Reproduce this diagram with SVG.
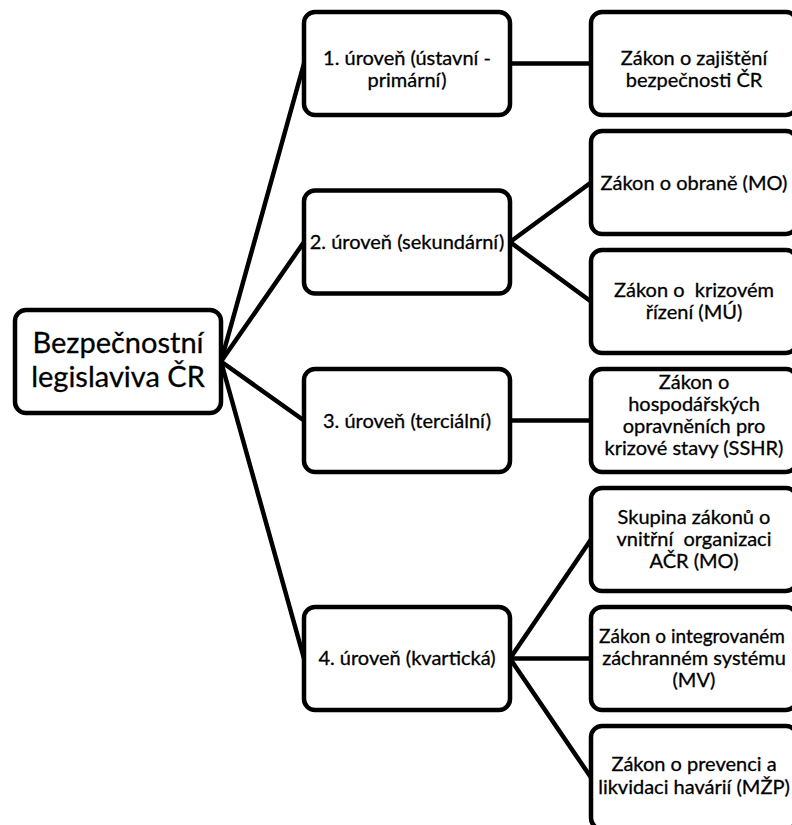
<svg xmlns="http://www.w3.org/2000/svg" width="792" height="825" viewBox="0 0 792 825">
<style>
.box{fill:#fff;stroke:#000;stroke-width:4.5}
.ln{stroke:#000;stroke-width:4.5;fill:none;stroke-linecap:round}
text{font-family:Lato,"Liberation Sans",sans-serif;fill:#000;text-anchor:middle;white-space:pre;stroke:#000;stroke-width:0.3}
.s{font-size:20px}
.r{font-size:29px}
</style>
<rect width="792" height="825" fill="#fff"/>
<g id="connectors">
<line class="ln" x1="221" y1="361.5" x2="304" y2="63.5"/>
<line class="ln" x1="221" y1="361.5" x2="304" y2="242"/>
<line class="ln" x1="221" y1="361.5" x2="304" y2="420.5"/>
<line class="ln" x1="221" y1="361.5" x2="304" y2="658.5"/>
<line class="ln" x1="510" y1="63.5" x2="591" y2="63.5"/>
<line class="ln" x1="510" y1="242" x2="591" y2="182.5"/>
<line class="ln" x1="510" y1="242" x2="591" y2="301.5"/>
<line class="ln" x1="510" y1="420.5" x2="591" y2="420.5"/>
<line class="ln" x1="510" y1="658.5" x2="591" y2="539.5"/>
<line class="ln" x1="510" y1="658.5" x2="591" y2="658.5"/>
<line class="ln" x1="510" y1="658.5" x2="591" y2="777.5"/>
</g>
<g id="root">
<rect class="box" x="15" y="310" width="206" height="103" rx="11"/>
<text class="r" x="118" y="353">Bezpečnostní</text>
<text class="r" x="118" y="387">legislaviva ČR</text>
</g>
<g id="level1">
<rect class="box" x="304" y="12" width="206" height="103" rx="11"/>
<text class="s" x="407" y="65">1. úroveň (ústavní -</text>
<text class="s" x="407" y="87">primární)</text>
</g>
<g id="level2">
<rect class="box" x="304" y="190.5" width="206" height="103" rx="11"/>
<text class="s" x="407" y="248.5">2. úroveň (sekundární)</text>
</g>
<g id="level3">
<rect class="box" x="304" y="369" width="206" height="103" rx="11"/>
<text class="s" x="407" y="428">3. úroveň (terciální)</text>
</g>
<g id="level4">
<rect class="box" x="304" y="607" width="206" height="103" rx="11"/>
<text class="s" x="407" y="664.5">4. úroveň (kvartická)</text>
</g>
<g id="law1">
<rect class="box" x="591" y="12" width="206" height="103" rx="11"/>
<text class="s" x="694" y="65">Zákon o zajištění</text>
<text class="s" x="694" y="87">bezpečnosti ČR</text>
</g>
<g id="law2">
<rect class="box" x="591" y="131" width="206" height="103" rx="11"/>
<text class="s" x="694" y="190">Zákon o obraně (MO)</text>
</g>
<g id="law3">
<rect class="box" x="591" y="250" width="206" height="103" rx="11"/>
<text class="s" x="694" y="297" xml:space="preserve">Zákon o  krizovém</text>
<text class="s" x="694" y="319">řízení (MÚ)</text>
</g>
<g id="law4">
<rect class="box" x="591" y="369" width="206" height="103" rx="11"/>
<text class="s" x="694" y="389">Zákon o</text>
<text class="s" x="694" y="411">hospodářských</text>
<text class="s" x="694" y="433">opravněních pro</text>
<text class="s" x="694" y="455">krizové stavy (SSHR)</text>
</g>
<g id="law5">
<rect class="box" x="591" y="488" width="206" height="103" rx="11"/>
<text class="s" x="694" y="523.5">Skupina zákonů o</text>
<text class="s" x="694" y="545.5" xml:space="preserve">vnitřní  organizaci</text>
<text class="s" x="694" y="567.5">AČR (MO)</text>
</g>
<g id="law6">
<rect class="box" x="591" y="607" width="206" height="103" rx="11"/>
<text class="s" x="692" y="642.5" style="font-size:19px">Zákon o integrovaném</text>
<text class="s" x="694" y="664.5">záchranném systému</text>
<text class="s" x="694" y="686.5">(MV)</text>
</g>
<g id="law7">
<rect class="box" x="591" y="726" width="206" height="103" rx="11"/>
<text class="s" x="694" y="771">Zákon o prevenci a</text>
<text class="s" x="694" y="793.5">likvidaci havárií (MŽP)</text>
</g>
</svg>
